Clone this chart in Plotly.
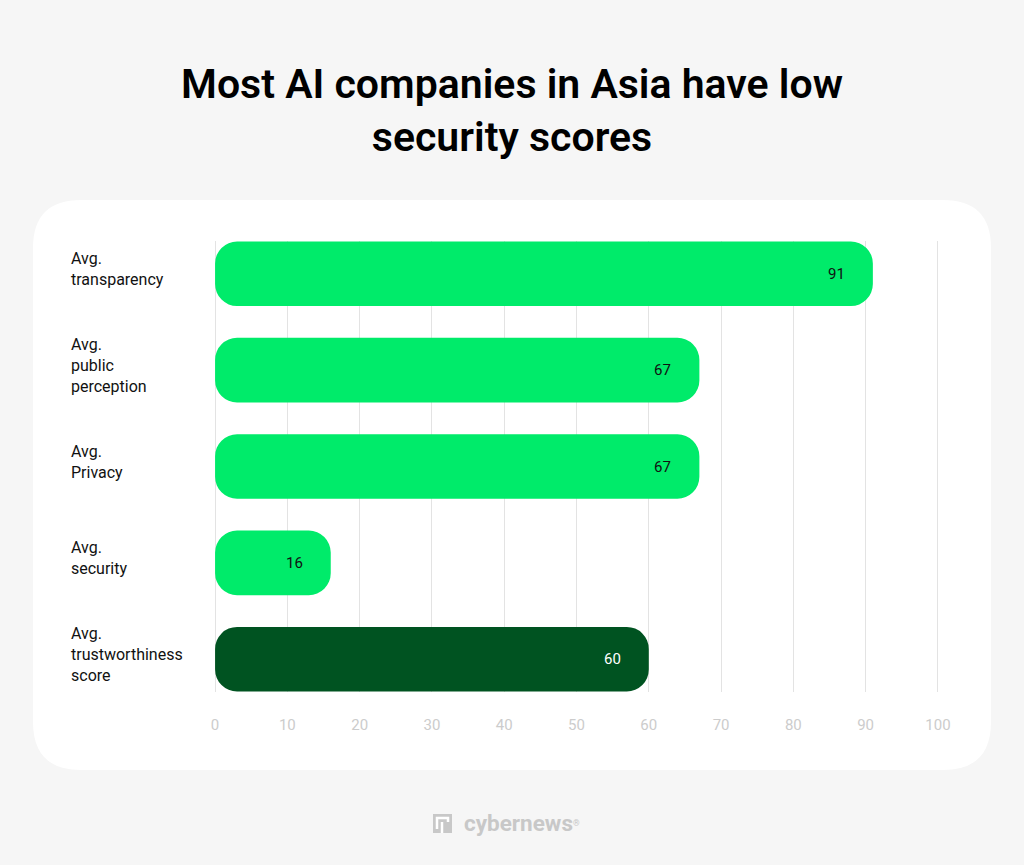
import plotly.graph_objects as go

# ---- data ----
categories = ["Avg.<br>transparency", "Avg.<br>public<br>perception", "Avg.<br>Privacy",
              "Avg.<br>security", "Avg.<br>trustworthiness<br>score"]
values = [91, 67, 67, 16, 60]
bar_colors = ["#00EB6A", "#00EB6A", "#00EB6A", "#00EB6A", "#005321"]
text_colors = ["#111111", "#111111", "#111111", "#111111", "#FFFFFF"]
x_ticks = [0, 10, 20, 30, 40, 50, 60, 70, 80, 90, 100]

W, H = 1024, 865
L, R, T, B = 214, 85, 241, 173
PW, PH = W - L - R, H - T - B

def px_to_paper(px, py):
    return (px - L) / PW, (H - B - py) / PH

def rounded_rect(x0, y0, x1, y1, r):
    def P(x, y):
        a, b = px_to_paper(x, y)
        return f"{a:.5f},{b:.5f}"
    d = f"M {P(x0 + r, y0)} L {P(x1 - r, y0)} Q {P(x1, y0)} {P(x1, y0 + r)} "
    d += f"L {P(x1, y1 - r)} Q {P(x1, y1)} {P(x1 - r, y1)} "
    d += f"L {P(x0 + r, y1)} Q {P(x0, y1)} {P(x0, y1 - r)} "
    d += f"L {P(x0, y0 + r)} Q {P(x0, y0)} {P(x0 + r, y0)} Z"
    return d

fig = go.Figure()
fig.add_trace(go.Bar(
    y=categories, x=values, base=[0] * len(values),
    orientation="h", marker=dict(color=bar_colors, cornerradius=22, line=dict(width=0)),
    hoverinfo="skip", showlegend=False))

annotations = []
for c, v, tc in zip(categories, values, text_colors):
    annotations.append(dict(x=v, y=c, xref="x", yref="y", text=str(v), showarrow=False,
                            xanchor="right", xshift=-26,
                            font=dict(family="Roboto", size=15, color=tc)))
    annotations.append(dict(x=(69 - L) / PW, y=c, xref="paper", yref="y", text=c,
                            showarrow=False, xanchor="left", align="left", yshift=5,
                            font=dict(family="Roboto", size=16, color="#111111")))
# logo text
annotations.append(dict(x=(462 - L) / PW, y=(H - B - 823) / PH, xref="paper", yref="paper",
                        text="<b>cybernews</b><span style='font-size:12px'><sup>®</sup></span>",
                        showarrow=False, xanchor="left", yanchor="middle",
                        font=dict(family="Roboto", size=22.5, color="#C8C8C8")))

shapes = [
    dict(type="path", xref="paper", yref="paper", path=rounded_rect(33, 200, 991, 770, 48),
         fillcolor="#FFFFFF", line=dict(width=0), layer="below"),
]
# logo icon
a0, b0 = px_to_paper(433, 814)
a1, b1 = px_to_paper(452, 833)
shapes.append(dict(type="rect", xref="paper", yref="paper", x0=a0, y0=b1, x1=a1, y1=b0,
                   fillcolor="#C8C8C8", line=dict(width=0)))
c0, d0 = px_to_paper(437, 818)
c1, d1 = px_to_paper(448, 829)
shapes.append(dict(type="path", xref="paper", yref="paper",
                   path=f"M {c0},{d1} L {c0},{d0} L {c1},{d0} L {c1},{px_to_paper(0, 822)[1]}",
                   line=dict(color="#FFFFFF", width=2.5)))
e0, f0 = px_to_paper(442, 822)
e1, f1 = px_to_paper(442, 833)
shapes.append(dict(type="line", xref="paper", yref="paper", x0=e0, y0=f0, x1=e1, y1=f1,
                   line=dict(color="#FFFFFF", width=2.5)))

fig.update_layout(
    width=W, height=H,
    margin=dict(l=L, r=R, t=T, b=B),
    paper_bgcolor="#F6F6F6", plot_bgcolor="rgba(0,0,0,0)",
    barmode="overlay", bargap=0.33,
    title=dict(text="Most AI companies in Asia have low<br>security scores",
               x=0.5, xanchor="center", y=1 - 98 / H, yanchor="middle", yref="container",
               font=dict(family="Roboto", size=41, color="#000000", weight=600)),
    xaxis=dict(range=[-0.15, 100.15], tickvals=x_ticks, showgrid=True, gridcolor="#E3E3E3",
               gridwidth=1, zeroline=False, showline=False,
               tickfont=dict(family="Roboto", size=15, color="#CCCCCC"),
               ticks="", ticklabelstandoff=22, fixedrange=True),
    yaxis=dict(categoryorder="array", categoryarray=categories, range=[4.34, -0.34],
               showticklabels=False, showgrid=False, zeroline=False, ticks="",
               fixedrange=True),
    annotations=annotations, shapes=shapes,
)

fig.write_html("out.html", config={"displayModeBar": False},
               post_script="document.body.style.margin='0';")
